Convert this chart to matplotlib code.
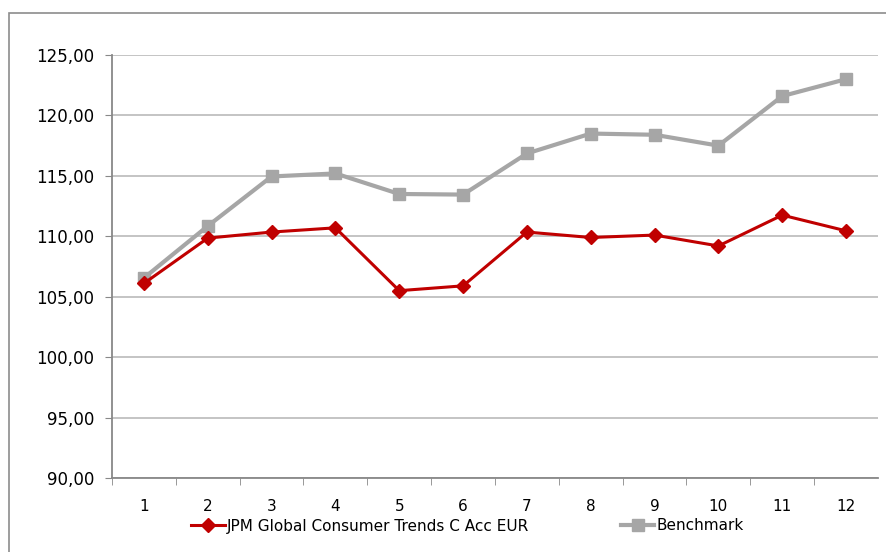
import matplotlib
matplotlib.use("Agg")
import matplotlib.pyplot as plt
from matplotlib.patches import Rectangle
from matplotlib.ticker import FuncFormatter

# Data
months = list(range(1, 13))
fund = [106.1, 109.85, 110.35, 110.7, 105.5, 105.9, 110.35, 109.9, 110.1, 109.2, 111.75, 110.45]
benchmark = [106.55, 110.85, 114.95, 115.2, 113.5, 113.45, 116.85, 118.5, 118.4, 117.5, 121.6, 123.0]

fund_label = "JPM Global Consumer Trends C Acc EUR"
bench_label = "Benchmark"

fig = plt.figure(figsize=(8.87, 5.52), dpi=100)
ax = fig.add_axes([112 / 887, 74 / 552, 766 / 887, 423 / 552])

# outer chart frame (clipped by the image on right and bottom)
fig.patches.append(Rectangle((9 / 887, -0.1), 1.1, 1 - 13 / 552 + 0.1,
                             transform=fig.transFigure, fill=False,
                             edgecolor="#8c8c8c", linewidth=1.2))

ax.plot(months, fund, color="#C00000", linewidth=2.2, marker="D",
        markersize=7, label=fund_label, zorder=4)
ax.plot(months, benchmark, color="#A6A6A6", linewidth=3, marker="s",
        markersize=9, label=bench_label, zorder=3)

ax.set_xlim(0.5, 12.5)
ax.set_ylim(90, 125)
ax.set_yticks(range(90, 126, 5))
ax.yaxis.set_major_formatter(FuncFormatter(lambda v, p: f"{v:.2f}".replace(".", ",")))
ax.set_xticks(months)
ax.set_xticks([m + 0.5 for m in range(0, 12)], minor=True)
ax.tick_params(axis="x", which="major", length=0, pad=15, labelsize=11)
ax.tick_params(axis="x", which="minor", length=5, color="#888888", direction="out")
ax.tick_params(axis="y", length=5, color="#888888", labelsize=12, pad=8)

ax.grid(axis="y", color="#bfbfbf", linewidth=1.3)
ax.set_axisbelow(True)
for side in ["top", "right"]:
    ax.spines[side].set_visible(False)
for side in ["left", "bottom"]:
    ax.spines[side].set_color("#888888")
    ax.spines[side].set_linewidth(1.3)

fig.legend(loc="center", bbox_to_anchor=(0.527, 26 / 552), ncol=2, frameon=False,
           fontsize=11, columnspacing=6, handlelength=2.2, handletextpad=0.15,
           borderpad=0.2)

plt.savefig("out.png")
